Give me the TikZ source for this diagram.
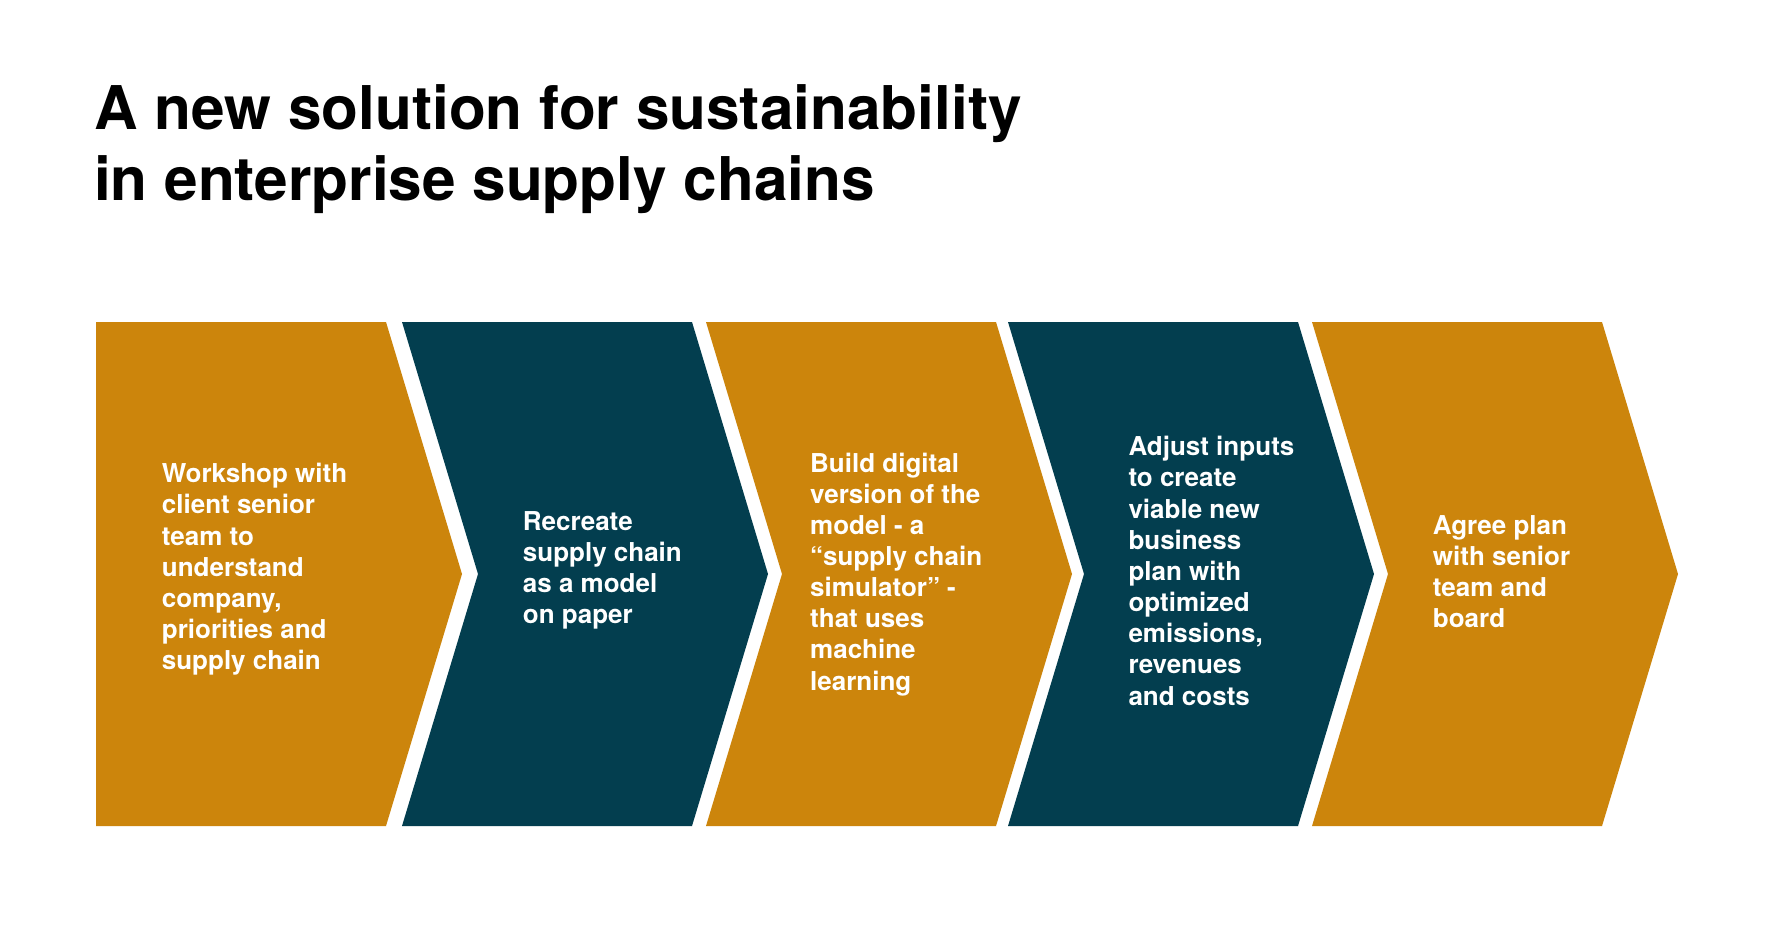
\documentclass[tikz,border=0pt]{standalone}
\usepackage{fontspec}
\setmainfont{TeX Gyre Heros}
\definecolor{cgold}{HTML}{CC850C}
\definecolor{cdark}{HTML}{033E4F}
\tikzset{
  chevgold/.style={fill=cgold, draw=none},
  chevdark/.style={fill=cdark, draw=none},
  steptext/.style={anchor=base west, inner sep=0pt, text=white,
    font=\bfseries\fontsize{26}{31.15}\selectfont},
  titletext/.style={anchor=base west, inner sep=0pt, text=black,
    font=\bfseries\fontsize{60.3}{70.7}\selectfont},
}
\newcommand{\tbox}[2]{\parbox[t]{#1pt}{\raggedright #2}}
\begin{document}
\begin{tikzpicture}[x=1pt, y=-1pt]
  \useasboundingbox[fill=white] (0,0) rectangle (1768,940);

  % title
  \node[titletext] (title) at (94,129.3)
    {\tbox{1400}{A new solution for sustainability\\in enterprise supply chains}};

  % chevrons
  \fill[chevgold] (96,322) -- (386,322) -- (462,574) -- (386,826) -- (96,826) -- cycle;
  \fill[chevdark] (402,322) -- (692,322) -- (768,574) -- (692,826) -- (402,826) -- (478,574) -- cycle;
  \fill[chevgold] (706,322) -- (996,322) -- (1072,574) -- (996,826) -- (706,826) -- (782,574) -- cycle;
  \fill[chevdark] (1008,322) -- (1298,322) -- (1374,574) -- (1298,826) -- (1008,826) -- (1084,574) -- cycle;
  \fill[chevgold] (1312,322) -- (1602,322) -- (1678,574) -- (1602,826) -- (1312,826) -- (1388,574) -- cycle;

  % step texts
  \node[steptext] (s1) at (161.7,482.8)
    {\tbox{240}{Workshop with\\client senior\\team to\\understand\\company,\\priorities and\\supply chain}};
  \node[steptext] (s2) at (522.7,530.2)
    {\tbox{240}{Recreate\\supply chain\\as a model\\on paper}};
  \node[steptext] (s3) at (810,472)
    {\tbox{240}{Build digital\\version of the\\model - a\\“supply chain\\simulator” -\\that uses\\machine\\learning}};
  \node[steptext] (s4) at (1128.3,455.8)
    {\tbox{240}{Adjust inputs\\to create\\viable new\\business\\plan with\\optimized\\emissions,\\revenues\\and costs}};
  \node[steptext] (s5) at (1432.7,534.3)
    {\tbox{240}{Agree plan\\with senior\\team and\\board}};
\end{tikzpicture}
\end{document}
